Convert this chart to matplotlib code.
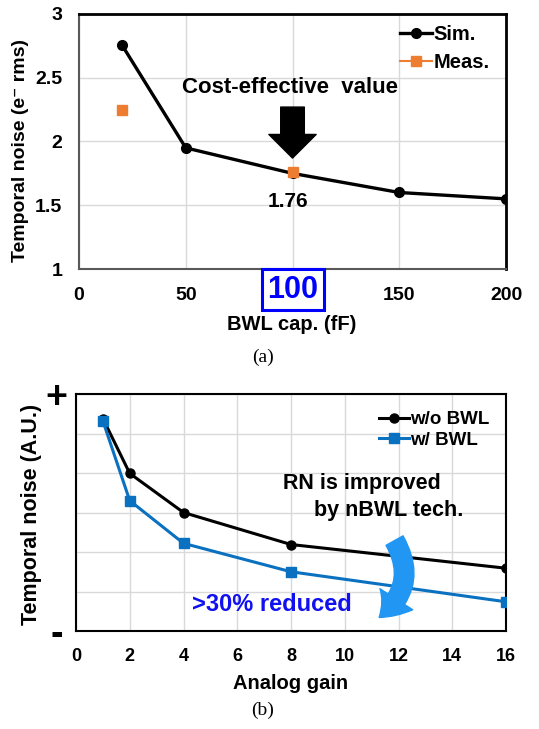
import matplotlib.pyplot as plt
from matplotlib.lines import Line2D
from matplotlib.patches import FancyArrowPatch

plt.rcParams['font.family'] = ['Liberation Sans', 'DejaVu Sans']
plt.rcParams['font.weight'] = 'bold'

# (a) BWL capacitance sweep
cap_sim = [20, 50, 100, 150, 200]
noise_sim = [2.76, 1.95, 1.75, 1.60, 1.55]
cap_meas = [20, 100]
noise_meas = [2.25, 1.76]
xticks_a = [0, 50, 100, 150, 200]
xticklabels_a = ['0', '50', '', '150', '200']
yticks_a = [1, 1.5, 2, 2.5, 3]
yticklabels_a = ['1', '1.5', '2', '2.5', '3']

# (b) analog gain sweep
gain = [1, 2, 4, 8, 16]
noise_wo = [5.38, 3.99, 3.00, 2.19, 1.59]
noise_w = [5.32, 3.30, 2.22, 1.50, 0.74]
xticks_b = list(range(0, 17, 2))
yticks_b = [0, 1, 2, 3, 4, 5, 6]
yticklabels_b = ['-', '', '', '', '', '', '+']

orange = '#ED7D31'
blue = '#0A70C0'
grid_c = '#D9D9D9'

fig = plt.figure(figsize=(5.39, 7.29), dpi=100)

# ---------- (a) ----------
ax1 = fig.add_axes([0.1466, 0.631, 0.7922, 0.3498])
ax1.plot(cap_sim, noise_sim, '-o', color='black', lw=2.4, ms=7, zorder=3)
ax1.plot(cap_meas, noise_meas, 's', color=orange, ms=7, zorder=4)
ax1.set_xlim(0, 200)
ax1.set_ylim(1, 3)
ax1.set_xticks(xticks_a)
ax1.set_xticklabels(xticklabels_a)
ax1.set_yticks(yticks_a)
ax1.set_yticklabels(yticklabels_a)
ax1.tick_params(axis='x', length=0, pad=13, labelsize=14)
ax1.tick_params(axis='y', length=0, pad=12, labelsize=14)
ax1.grid(True, color=grid_c, lw=1)
ax1.set_axisbelow(True)
for s in ['top', 'right']:
    ax1.spines[s].set_linewidth(2)
    ax1.spines[s].set_color('black')
for s in ['left', 'bottom']:
    ax1.spines[s].set_linewidth(1.5)
    ax1.spines[s].set_color('#595959')
ax1.set_xlabel('BWL cap. (fF)', fontsize=14.5, fontweight='bold')
ax1.xaxis.set_label_coords(0.499, -0.182)
ax1.set_ylabel('Temporal noise (e\u207b rms)', fontsize=14, fontweight='bold')
ax1.yaxis.set_label_coords(-0.118, 0.463)

ax1.text(100, -0.082, '100', transform=ax1.get_xaxis_transform(), ha='center', va='center',
         fontsize=22, color='#0000FF', fontweight='bold',
         bbox=dict(boxstyle='square,pad=0.18', fc='white', ec='#0000FF', lw=2.2))
ax1.text(99, 2.42, 'Cost-effective  value', ha='center', va='center', fontsize=16, fontweight='bold')
ax1.annotate('', xy=(100, 1.87), xytext=(100, 2.27),
             arrowprops=dict(facecolor='black', edgecolor='black', width=17, headwidth=34, headlength=17))
ax1.text(98, 1.53, '1.76', ha='center', va='center', fontsize=15, fontweight='bold')

handles_a = [Line2D([], [], color='black', lw=2.4, marker='o', ms=7),
             Line2D([], [], color=orange, lw=1.5, marker='s', ms=7)]
ax1.legend(handles_a, ['Sim.', 'Meas.'], loc='upper left', bbox_to_anchor=(0.733, 0.988),
           frameon=False, fontsize=14.5, handlelength=1.6, handletextpad=0.05,
           borderaxespad=0, labelspacing=0.45)

fig.text(0.488, 0.510, '(a)', ha='center', va='center', fontsize=14,
         family=['Liberation Serif', 'DejaVu Serif'], fontweight='normal')

# ---------- (b) ----------
ax2 = fig.add_axes([0.141, 0.1344, 0.7978, 0.3251])
ax2.plot(gain, noise_wo, '-o', color='black', lw=2.2, ms=6.5, label='w/o BWL', zorder=3)
ax2.plot(gain, noise_w, '-s', color=blue, lw=2.2, ms=6.5, label='w/ BWL', zorder=3)
ax2.set_xlim(0, 16)
ax2.set_ylim(0, 6)
ax2.set_xticks(xticks_b)
ax2.set_yticks(yticks_b)
ax2.set_yticklabels(yticklabels_b)
ax2.tick_params(axis='x', length=0, pad=12, labelsize=13)
ax2.tick_params(axis='y', length=0, pad=14, labelsize=27)
for lab in ax2.get_yticklabels():
    lab.set_horizontalalignment('center')
ax2.grid(True, color=grid_c, lw=1)
ax2.set_axisbelow(True)
for s in ax2.spines.values():
    s.set_linewidth(1.5)
    s.set_color('black')
ax2.set_xlabel('Analog gain', fontsize=14.5, fontweight='bold')
ax2.xaxis.set_label_coords(0.5, -0.181)
ax2.set_ylabel('Temporal noise (A.U.)', fontsize=15.5, fontweight='bold')
ax2.yaxis.set_label_coords(-0.08, 0.49)

ax2.legend(loc='upper left', bbox_to_anchor=(0.688, 0.96), frameon=False, fontsize=13.5,
           handlelength=1.6, handletextpad=0.05, borderaxespad=0, labelspacing=0.2)

ax2.text(7.7, 3.74, 'RN is improved', ha='left', va='center', fontsize=15.5, fontweight='bold')
ax2.text(14.4, 3.06, 'by nBWL tech.', ha='right', va='center', fontsize=15.5, fontweight='bold')
ax2.text(4.3, 0.66, '>30% reduced', ha='left', va='center', fontsize=17, fontweight='bold', color='#1010F0')

arr = FancyArrowPatch((11.8, 2.35), (11.2, 0.30), connectionstyle='arc3,rad=-0.45',
                      arrowstyle='simple,head_width=2.8,head_length=1.8,tail_width=1.4',
                      mutation_scale=10, color='#2196F3', zorder=5)
ax2.add_patch(arr)

fig.text(0.488, 0.026, '(b)', ha='center', va='center', fontsize=14,
         family=['Liberation Serif', 'DejaVu Serif'], fontweight='normal')

fig.savefig('out.png', dpi=100)
